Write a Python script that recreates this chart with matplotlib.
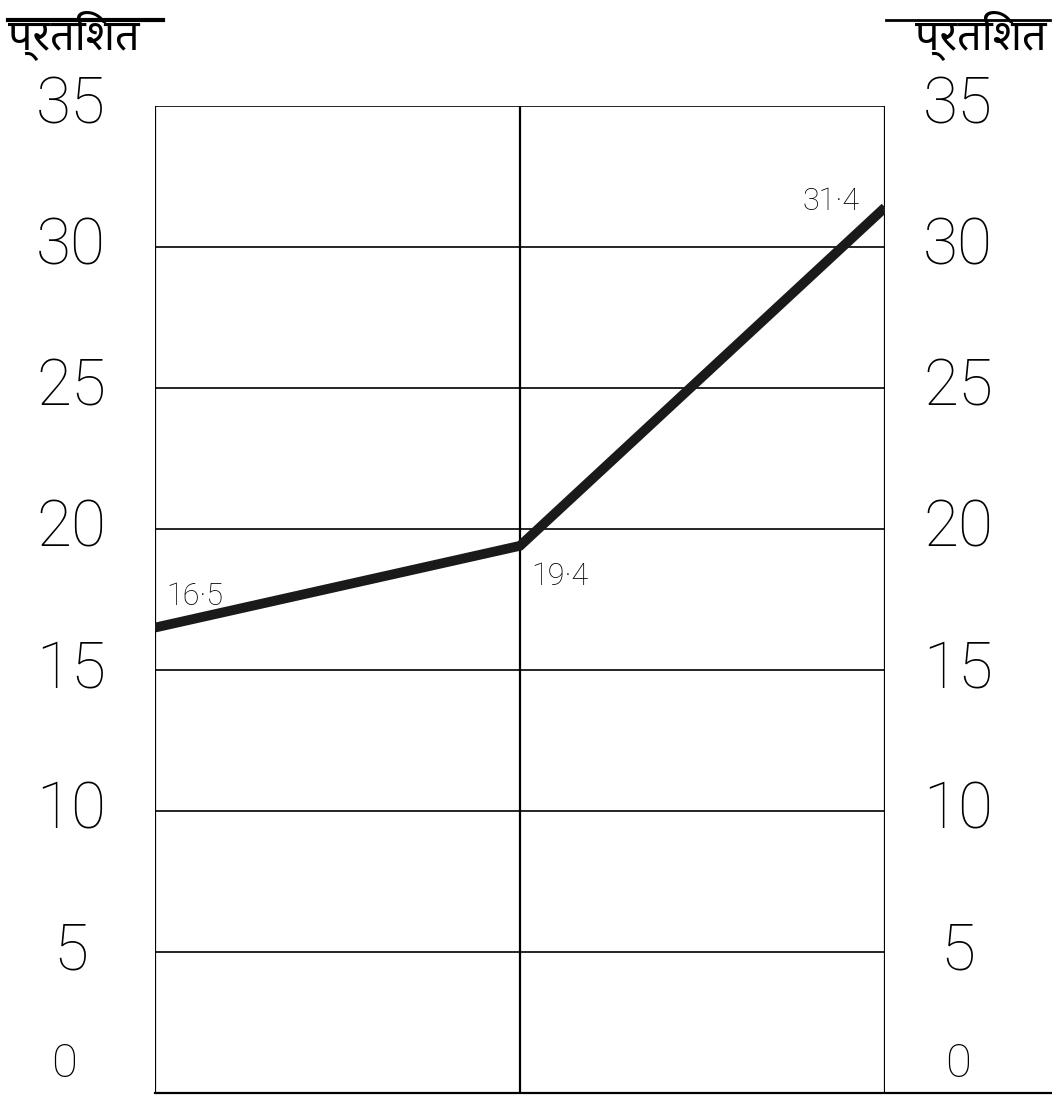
import matplotlib
matplotlib.use("Agg")
import matplotlib.pyplot as plt
from matplotlib.lines import Line2D

# data
positions = [0, 1, 2]
values = [16.5, 19.4, 31.4]
value_labels = ["16·5", "19·4", "31·4"]
y_ticks = [0, 5, 10, 15, 20, 25, 30, 35]
axis_title = "प्रतिशत"

plt.rcParams['font.family'] = ['Noto Sans', 'DejaVu Sans']
num_font = ['Roboto', 'DejaVu Sans']

fig = plt.figure(figsize=(10.52, 10.98), dpi=100)
ax = fig.add_axes([0.1473, 0.0046, 0.694, 0.899])

ax.set_xlim(0, 2)
ax.set_ylim(0, 35)

# grid
for v in y_ticks:
    ax.axhline(v, color="black", lw=1.2, zorder=1)
for p in positions:
    ax.axvline(p, color="black", lw=1.6, zorder=1)

# bottom line runs past the right edge
ax.add_line(Line2D([0, 1.3], [0, 0], transform=ax.transAxes,
                   color="black", lw=1.6, clip_on=False))

# the series
ax.plot(positions, values, color="#1a1a1a", lw=7, solid_capstyle="butt",
        solid_joinstyle="miter", zorder=3)

# value labels
offsets = [(0.03, 1.1), (0.03, -1.1), (-0.07, 0.2)]
aligns = ["left", "left", "right"]
for p, v, t, (dx, dy), ha in zip(positions, values, value_labels, offsets, aligns):
    ax.text(p + dx, v + dy, t, fontsize=22, fontweight="light", family=num_font,
            ha=ha, va="center", zorder=4)

# tick labels on both sides
for v in y_ticks:
    if v == 0:
        ax.text(-0.25, 0.25, "0", fontsize=34, fontweight="light", family=num_font,
                ha="center", va="bottom", clip_on=False)
        ax.text(2.2, 0.25, "0", fontsize=34, fontweight="light", family=num_font,
                ha="center", va="bottom", clip_on=False)
        continue
    ax.text(-0.23, v, str(v), fontsize=46, fontweight="light", family=num_font,
            ha="center", va="center", clip_on=False)
    ax.text(2.2, v, str(v), fontsize=46, fontweight="light", family=num_font,
            ha="center", va="center", clip_on=False)

# axis titles with their top stroke
fig.text(0.008, 0.99, axis_title, fontsize=31, ha="left", va="top")
fig.text(0.995, 0.99, axis_title, fontsize=31, ha="right", va="top")
fig.add_artist(Line2D([0.008, 0.155], [0.982, 0.982], color="black", lw=3))
fig.add_artist(Line2D([0.842, 0.998], [0.982, 0.982], color="black", lw=2))

ax.set_xticks([])
ax.set_yticks([])
for s in ax.spines.values():
    s.set_visible(False)

fig.savefig("out.png", dpi=100, facecolor="white")
